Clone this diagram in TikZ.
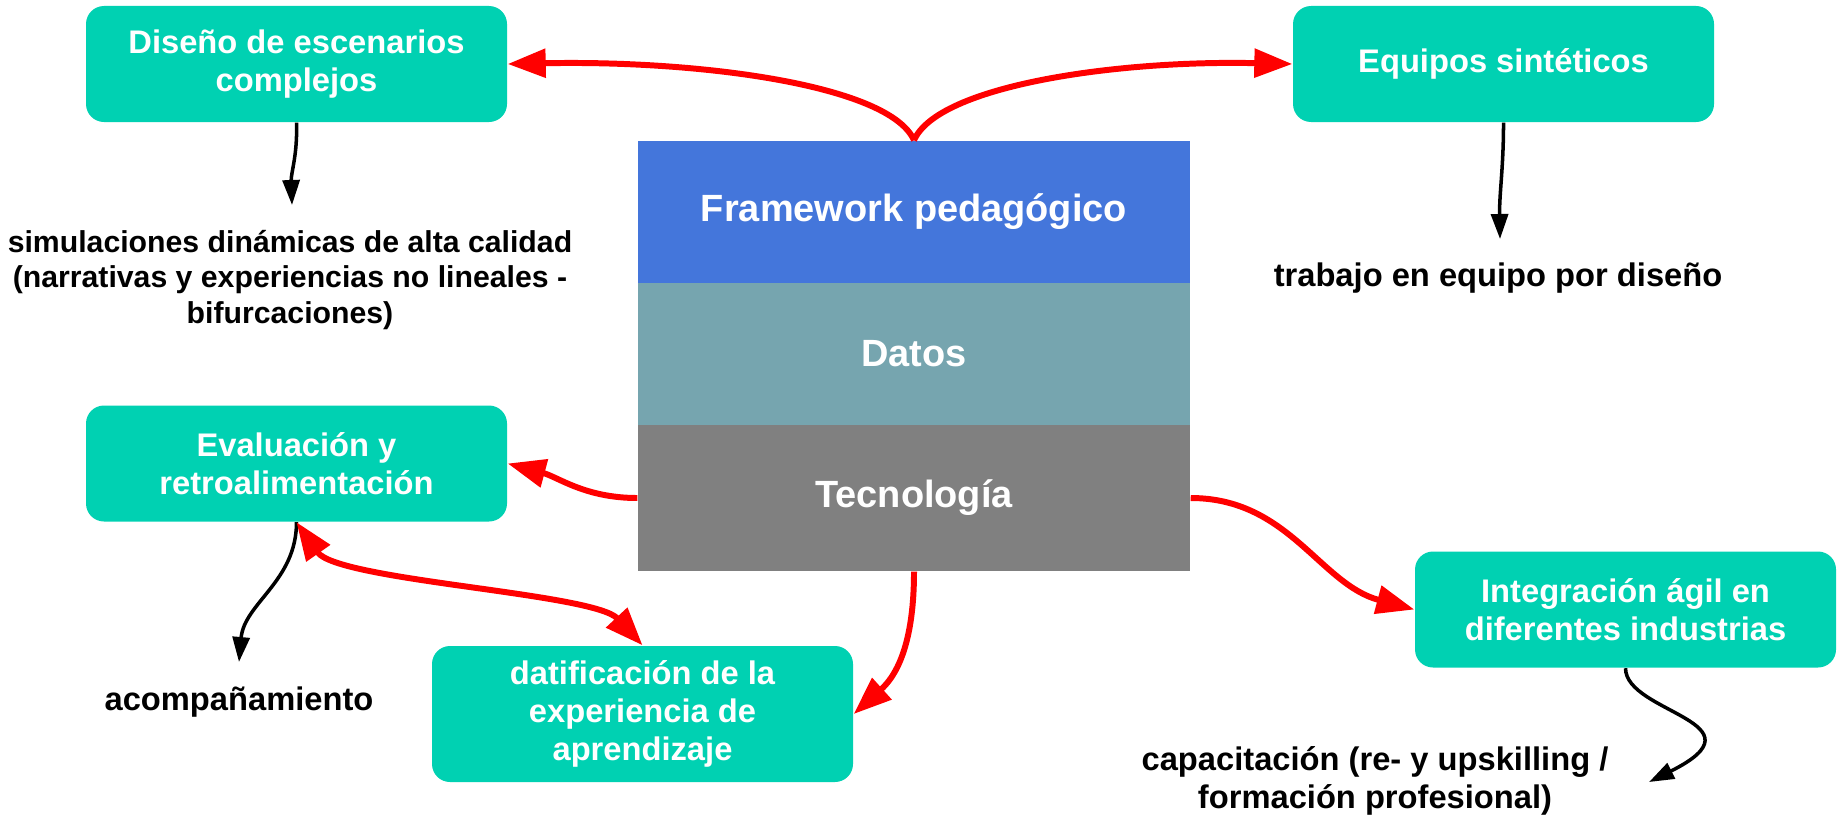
\documentclass[tikz,border=0pt]{standalone}
\usepackage{fontspec}
\setmainfont{Liberation Sans}
\usetikzlibrary{arrows.meta}

\definecolor{boxteal}{RGB}{0,209,178}
\definecolor{layerblue}{RGB}{68,118,219}
\definecolor{layercyan}{RGB}{118,165,175}
\definecolor{layergray}{RGB}{128,128,128}
\definecolor{linkred}{RGB}{255,0,0}

\newcommand{\tealfont}{\fontsize{9.3}{10.8}\selectfont\bfseries}
\newcommand{\layerfont}{\fontsize{10.8}{12.5}\selectfont\bfseries}
\newcommand{\notefont}{\fontsize{9.3}{10.8}\selectfont\bfseries}
\newcommand{\smallnotefont}{\fontsize{8.6}{10}\selectfont\bfseries}

\begin{document}
\begin{tikzpicture}[
        tealbox/.style={fill=boxteal, rounded corners=0.18cm, minimum width=4.21cm, minimum height=1.16cm, text=white, align=center, font=\tealfont, inner sep=0pt},
        layer/.style={minimum width=5.52cm, minimum height=1.42cm, text=white, font=\layerfont, inner sep=0pt},
        note/.style={align=center, font=\notefont},
        redtip/.tip={Triangle[length=0.38cm, width=0.28cm]},
        blacktip/.tip={Triangle[length=0.25cm, width=0.17cm]},
        redlink/.style={draw=linkred, line width=1.7pt, -redtip},
        blacklink/.style={draw=black, line width=1pt, -blacktip},
    ]
            \useasboundingbox (0, 0) rectangle (18.43, 8.16);
            % central stack
            \node[layer, fill=layerblue] (framework) at (9.14, 6.04) {Framework pedagógico};
            \node[layer, fill=layercyan] (datos) at (9.14, 4.62) {Datos};
            \node[layer, fill=layergray, minimum height=1.46cm] (tecnologia) at (9.14, 3.18) {Tecnología};
            % boxes
            \node[tealbox] (disenio) at (2.965, 7.52) {Diseño de escenarios\\complejos};
            \node[tealbox] (equipos) at (15.035, 7.52) {Equipos sintéticos};
            \node[tealbox] (evaluacion) at (2.965, 3.525) {Evaluación y\\retroalimentación};
            \node[tealbox, minimum height=1.36cm] (datificacion) at (6.425, 1.02) {datificación de la\\experiencia de\\aprendizaje};
            \node[tealbox] (integracion) at (16.255, 2.065) {Integración ágil en\\diferentes industrias};
            % notes
            \node[note, font=\smallnotefont] (simulaciones) at (2.90, 5.36) {simulaciones dinámicas de alta calidad\\(narrativas y experiencias no lineales -\\bifurcaciones)};
            \node[note] (trabajo) at (14.98, 5.38) {trabajo en equipo por diseño};
            \node[note] (acompanamiento) at (2.39, 1.14) {acompañamiento};
            \node[note] (capacitacion) at (13.75, 0.35) {capacitación (re- y upskilling /\\formación profesional)};
            \coordinate (simtip) at (2.92, 6.11);
            \coordinate (trabtip) at (15.00, 5.77);
            \coordinate (acomptip) at (2.39, 1.54);
            \coordinate (capactip) at (16.49, 0.34);
            % black arrows
            \draw[blacklink] (disenio.south) to[out=-88, in=92] (simtip);
            \draw[blacklink] (equipos.south) to[out=-90, in=91] (trabtip);
            \draw[blacklink] (evaluacion.south) to[out=-90, in=85] (acomptip);
            \draw[blacklink] (integracion.south) .. controls +(0, -0.45) and +(1.2, 0.6) .. (capactip);
            % red arrows
            \draw[redlink] (framework.north) .. controls +(-0.24, 0.55) and +(1.93, 0.04) .. (disenio.east);
            \draw[redlink] (framework.north) .. controls +(0.24, 0.55) and +(-1.75, 0.04) .. (equipos.west);
            \draw[redlink] (tecnologia.west) to[out=180, in=-15] (evaluacion.east);
            \draw[redlink] (tecnologia.south) .. controls +(0, -0.55) and +(0.5, 0.45) .. (datificacion.east);
            \draw[redlink] (tecnologia.east) to[out=0, in=165] (integracion.west);
            \draw[redlink, redtip-redtip] (evaluacion.south) to[out=-55, in=133, looseness=0.5] (datificacion.north);
        \end{tikzpicture}
\end{document}
